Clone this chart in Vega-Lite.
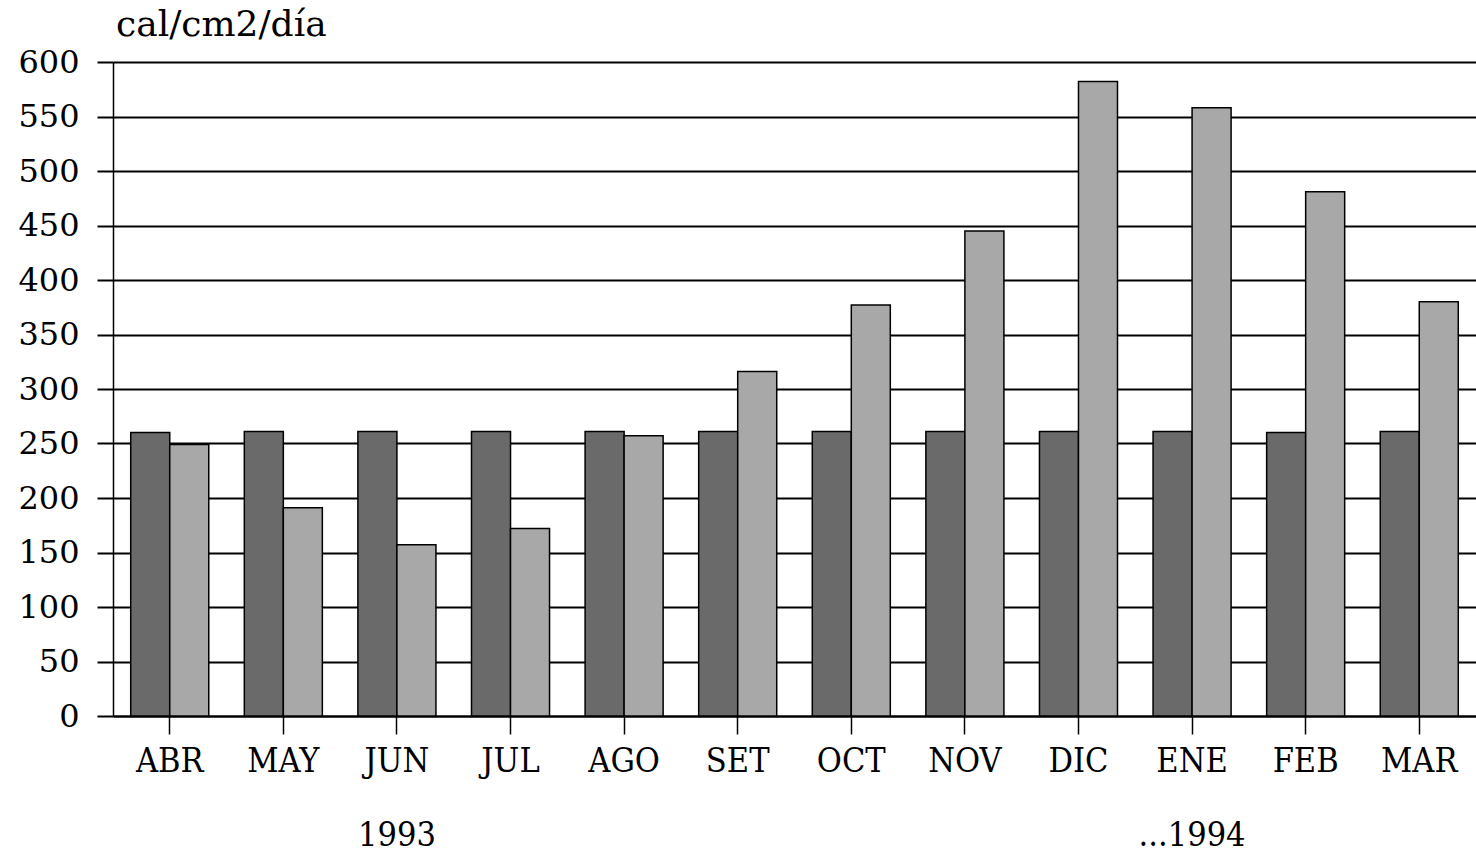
{
  "$schema": "https://vega.github.io/schema/vega-lite/v6.json",
  "autosize": {"type": "none"},
  "padding": {"left": 113, "top": 62, "right": 0, "bottom": 148},
  "width": 1363,
  "height": 654,
  "background": "white",
  "title": {
    "text": "cal/cm2/día",
    "anchor": "start",
    "frame": "group",
    "orient": "top",
    "baseline": "alphabetic",
    "offset": 0,
    "dy": 26,
    "font": "DejaVu Serif",
    "fontSize": 36,
    "fontWeight": "normal",
    "color": "black",
    "dx": 3
  },
  "data": {
    "values": [
      {"month": "ABR", "series": "A", "value": 260},
      {"month": "ABR", "series": "B", "value": 249},
      {"month": "MAY", "series": "A", "value": 261},
      {"month": "MAY", "series": "B", "value": 191},
      {"month": "JUN", "series": "A", "value": 261},
      {"month": "JUN", "series": "B", "value": 157},
      {"month": "JUL", "series": "A", "value": 261},
      {"month": "JUL", "series": "B", "value": 172},
      {"month": "AGO", "series": "A", "value": 261},
      {"month": "AGO", "series": "B", "value": 257},
      {"month": "SET", "series": "A", "value": 261},
      {"month": "SET", "series": "B", "value": 316},
      {"month": "OCT", "series": "A", "value": 261},
      {"month": "OCT", "series": "B", "value": 377},
      {"month": "NOV", "series": "A", "value": 261},
      {"month": "NOV", "series": "B", "value": 445},
      {"month": "DIC", "series": "A", "value": 261},
      {"month": "DIC", "series": "B", "value": 582},
      {"month": "ENE", "series": "A", "value": 261},
      {"month": "ENE", "series": "B", "value": 558},
      {"month": "FEB", "series": "A", "value": 260},
      {"month": "FEB", "series": "B", "value": 481},
      {"month": "MAR", "series": "A", "value": 261},
      {"month": "MAR", "series": "B", "value": 380}
    ]
  },
  "mark": {"type": "bar", "stroke": "black", "strokeWidth": 1.5},
  "encoding": {
    "x": {
      "field": "month",
      "type": "nominal",
      "sort": ["ABR", "MAY", "JUN", "JUL", "AGO", "SET", "OCT", "NOV", "DIC", "ENE", "FEB", "MAR"],
      "scale": {"paddingInner": 0.313, "paddingOuter": 0.156},
      "axis": {
        "title": null,
        "labelAngle": 0,
        "labelFont": "DejaVu Serif Condensed, Liberation Serif",
        "labelFontSize": 34,
        "labelColor": "black",
        "labelBaseline": "top",
        "labelPadding": 10,
        "labelLineHeight": 74,
        "labelExpr": "datum.value == 'JUN' ? ['JUN', '1993'] : datum.value == 'ENE' ? ['ENE', '...1994'] : datum.value",
        "ticks": true,
        "tickSize": 18,
        "tickColor": "black",
        "tickWidth": 1.5,
        "domainColor": "black",
        "domainWidth": 2,
        "grid": false
      }
    },
    "xOffset": {"field": "series", "type": "nominal", "scale": {"paddingInner": 0, "paddingOuter": 0}},
    "y": {
      "field": "value",
      "type": "quantitative",
      "scale": {"domain": [0, 600], "nice": false},
      "axis": {
        "title": null,
        "values": [0, 50, 100, 150, 200, 250, 300, 350, 400, 450, 500, 550, 600],
        "labelFont": "DejaVu Serif",
        "labelFontSize": 32,
        "labelColor": "black",
        "labelPadding": 18,
        "tickSize": 16,
        "tickColor": "black",
        "tickWidth": 2,
        "domainColor": "black",
        "domainWidth": 1.5,
        "grid": true,
        "gridColor": "black",
        "gridWidth": 2,
        "gridOpacity": 1
      }
    },
    "fill": {
      "field": "series",
      "type": "nominal",
      "scale": {"domain": ["A", "B"], "range": ["#6a6a6a", "#a8a8a8"]},
      "legend": null
    }
  },
  "config": {
    "view": {"stroke": null}
  }
}
